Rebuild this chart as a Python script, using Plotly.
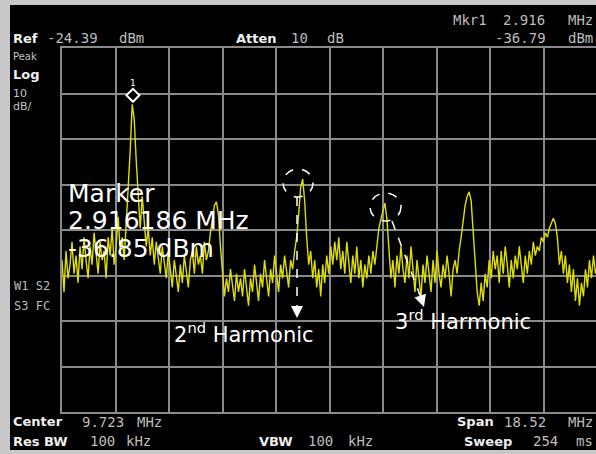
import numpy as np
import plotly.graph_objects as go

# ---- instrument settings (from the screen) ----
center_mhz = 9.723
span_mhz = 18.52
ref_dbm = -24.39
db_per_div = 10
n_vdiv = 8
n_hdiv = 10
marker_freq = 2.916
marker_level = -36.79

trace_dbm = [
    -71, -78, -69, -75, -72, -67, -74, -70, -76, -68,
    -73, -66, -71, -75, -68, -72, -65, -70, -74, -67,
    -71, -69, -75, -66, -70, -64, -72, -68, -61.5, -69,
    -66, -71, -63, -57, -47, -36.8, -40, -49, -58, -64,
    -57, -62, -68, -64, -70, -66, -72, -67, -70, -74,
    -68, -72, -75, -69, -73, -77, -71, -75, -78, -72,
    -76, -70, -74, -77, -71, -69, -74, -68, -72, -70,
    -74, -67, -71, -69, -65, -62, -59, -58.2, -61, -68,
    -74, -79, -75, -78, -73, -77, -80, -74, -78, -75,
    -79, -73, -77, -81, -75, -78, -72, -76, -80, -74,
    -77, -71, -75, -79, -73, -76, -70, -74, -78, -72,
    -75, -70, -74, -77, -71, -73, -69, -66, -61, -55,
    -53.2, -58, -66, -72, -69, -75, -71, -77, -73, -79,
    -72, -76, -70, -74, -68, -72, -67, -71, -66, -73,
    -69, -74, -67, -71, -76, -70, -74, -68, -75, -71,
    -77, -72, -75, -70, -74, -69, -72, -68, -64, -62,
    -60, -58.5, -62, -69, -75, -71, -77, -70, -74, -68,
    -73, -76, -70, -75, -68, -73, -78, -71, -75, -79,
    -72, -76, -70, -74, -78, -71, -76, -69, -74, -77,
    -72, -75, -70, -74, -79, -73, -71, -74, -69, -66,
    -62, -59, -57, -56, -58, -64, -72, -78, -81, -76,
    -80, -74, -77, -71, -75, -69, -73, -70, -76, -69,
    -74, -68, -72, -77, -71, -75, -70, -73, -68, -72,
    -76, -70, -74, -69, -72, -67, -70, -68, -69, -66,
    -67, -65, -66, -64, -63, -61.8, -63, -66, -72, -69,
    -74, -70, -76, -72, -78, -73, -80, -75, -81, -76,
    -79, -73, -77, -71, -75, -70, -74, -72,
]

start = center_mhz - span_mhz / 2
stop = center_mhz + span_mhz / 2
freqs = np.linspace(start, stop, len(trace_dbm))

W, H = 596, 454
L, T, B = 62, 48, 42
PW = W - L
PH = H - T - B

def X(px):
    return (px - L) / PW

def Y(py):
    return (H - B - py) / PH

GRID = "#8a8a8a"
YEL = "#dede00"

fig = go.Figure()
fig.add_trace(go.Scatter(x=freqs, y=trace_dbm, mode="lines",
                         line=dict(color=YEL, width=1.4), hoverinfo="skip"))
fig.add_trace(go.Scatter(x=[marker_freq], y=[marker_level + 2.0], mode="markers+text",
                         marker=dict(symbol="diamond", size=10, color="black",
                                     line=dict(color="white", width=2)),
                         text=["1"], textposition="top center",
                         textfont=dict(color="white", size=9, family="DejaVu Sans"),
                         hoverinfo="skip"))

ann = []

def txt(s, px, py, size=13, color="#c4c4c4", family="DejaVu Sans Mono", anchor="left", bold=False):
    if bold:
        s = "<b>" + s + "</b>"
    ann.append(dict(text=s, x=X(px), y=Y(py), xref="paper", yref="paper",
                    xanchor=anchor, yanchor="middle", showarrow=False,
                    font=dict(size=size, color=color, family=family)))

LAB = dict(size=13, color="#efefef", family="DejaVu Sans", bold=True)
VAL = dict(size=14, color="#bdbdbd", family="DejaVu Sans Mono")

# header
txt("Mkr1", 451, 20, **VAL)
txt("2.916", 501, 20, **VAL)
txt("MHz", 595, 20, anchor="right", **VAL)
txt("Ref", 11, 38, **LAB)
txt("-24.39", 45, 38, **VAL)
txt("dBm", 117, 38, **VAL)
txt("Atten", 234, 38, **LAB)
txt("10", 289, 38, **VAL)
txt("dB", 325, 38, **VAL)
txt("-36.79", 493, 38, **VAL)
txt("dBm", 595, 38, anchor="right", **VAL)
txt("Peak", 11, 56, size=10, color="#c4c4c4", family="DejaVu Sans")
txt("Log", 11, 75, **LAB)
txt("10", 11, 93, size=11, color="#c4c4c4", family="DejaVu Sans")
txt("dB/", 11, 106, size=11, color="#c4c4c4", family="DejaVu Sans")
txt("W1 S2", 12, 286, size=12, color="#bdbdbd", family="DejaVu Sans Mono")
txt("S3 FC", 12, 306, size=12, color="#bdbdbd", family="DejaVu Sans Mono")

# footer
txt("Center", 11, 422, **LAB)
txt("9.723", 80, 422, **VAL)
txt("MHz", 135, 422, **VAL)
txt("Span", 455, 422, **LAB)
txt("18.52", 502, 422, **VAL)
txt("MHz", 595, 422, anchor="right", **VAL)
txt("Res BW", 11, 441, **LAB)
txt("100", 88, 441, **VAL)
txt("kHz", 124, 441, **VAL)
txt("VBW", 257, 441, **LAB)
txt("100", 306, 441, **VAL)
txt("kHz", 346, 441, **VAL)
txt("Sweep", 462, 441, **LAB)
txt("254", 531, 441, **VAL)
txt("ms", 595, 441, anchor="right", **VAL)

# big marker readout
BIG = dict(size=25, color="white", family="DejaVu Sans")
txt("Marker", 66, 193, **BIG)
txt("2.916186 MHz", 66, 220, **BIG)
txt("-36.85 dBm", 66, 248, **BIG)

# harmonic labels
txt("2<sup>nd</sup> Harmonic", 172, 333, size=21, color="white", family="DejaVu Sans")
txt("3<sup>rd</sup> Harmonic", 393, 320, size=21, color="white", family="DejaVu Sans")

# arrowheads
ann.append(dict(x=X(297), y=Y(318), xref="paper", yref="paper", ax=0, ay=-12,
                showarrow=True, arrowhead=2, arrowsize=1.5, arrowwidth=1.6,
                arrowcolor="white", text=""))
ann.append(dict(x=X(424), y=Y(307), xref="paper", yref="paper", ax=-4, ay=-12,
                showarrow=True, arrowhead=2, arrowsize=1.5, arrowwidth=1.6,
                arrowcolor="white", text=""))

shapes = []
# outer grey frame
for x0, y0, x1, y1 in [(0, 0, 10, H), (0, 0, W, 5), (0, 450, W, H)]:
    shapes.append(dict(type="rect", xref="paper", yref="paper",
                       x0=X(x0), x1=X(x1), y0=Y(y1), y1=Y(y0),
                       fillcolor="#c8c8c8", line=dict(width=0), layer="above"))
# dashed circles
for cx, cy, rx, ry in [(298, 183, 15, 14), (385.5, 207, 15.5, 14)]:
    shapes.append(dict(type="circle", xref="paper", yref="paper",
                       x0=X(cx - rx), x1=X(cx + rx), y0=Y(cy + ry), y1=Y(cy - ry),
                       line=dict(color="white", width=1.5, dash="dash")))
# dashed arrow shafts
shapes.append(dict(type="line", xref="paper", yref="paper",
                   x0=X(297), y0=Y(197), x1=X(297), y1=Y(309),
                   line=dict(color="white", width=1.5, dash="dash")))
shapes.append(dict(type="line", xref="paper", yref="paper",
                   x0=X(392), y0=Y(221), x1=X(421), y1=Y(298),
                   line=dict(color="white", width=1.5, dash="dash")))

fig.update_layout(
    width=W, height=H,
    margin=dict(l=L, r=0, t=T, b=B, pad=0),
    paper_bgcolor="black", plot_bgcolor="black",
    showlegend=False,
    annotations=ann, shapes=shapes,
)
fig.update_xaxes(range=[start, start + span_mhz * PW / 535.5], tick0=start,
                 dtick=span_mhz / n_hdiv, showticklabels=False, ticks="",
                 showgrid=True, gridcolor=GRID, gridwidth=1.6,
                 showline=True, mirror=True, linecolor=GRID, linewidth=1.6,
                 zeroline=False)
fig.update_yaxes(range=[ref_dbm - n_vdiv * db_per_div, ref_dbm], tick0=ref_dbm,
                 dtick=db_per_div, showticklabels=False, ticks="",
                 showgrid=True, gridcolor=GRID, gridwidth=1.6,
                 showline=True, mirror=False, linecolor=GRID, linewidth=1.6,
                 zeroline=False)

fig.write_html("out.html",
               config={"displayModeBar": False},
               post_script="document.body.style.margin='0';"
                           "document.body.style.padding='0';"
                           "document.body.style.overflow='hidden';")
